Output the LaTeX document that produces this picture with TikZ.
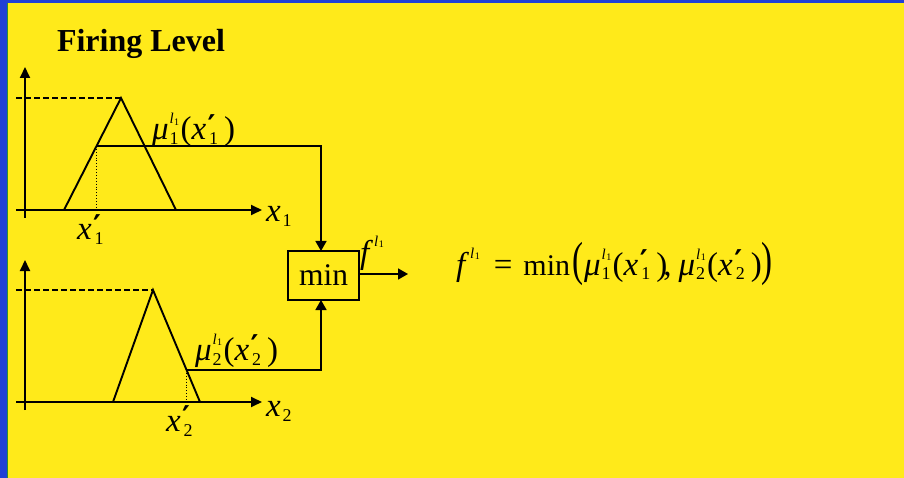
\documentclass[tikz,border=0pt]{standalone}
\usepackage{fontspec}
\setmainfont{Liberation Serif}
\newfontfamily\dvs{DejaVu Sans}
\usepackage{graphicx}
\usetikzlibrary{arrows.meta}
\definecolor{bgyellow}{RGB}{255,234,26}
\definecolor{bgblue}{RGB}{33,64,214}
\definecolor{edgegreen}{RGB}{40,140,60}
\newcommand{\subsz}{\fontsize{18}{18}\selectfont\upshape}
\newcommand{\lsupb}{{\fontsize{15}{15}\selectfont\itshape l\kern0.5pt\raisebox{-1.5pt}{\fontsize{10}{10}\selectfont\upshape 1}}}
\newcommand{\prm}{{\fontsize{30}{30}\selectfont\dvs\bfseries\upshape ′}}
\newcommand{\xpr}[1]{{\itshape x}\kern1.5pt\rlap{\raisebox{3.5pt}{\prm}}\kern1.5pt\raisebox{-5pt}{\subsz #1}}
\newcommand{\mss}[1]{{\itshape μ}\kern1pt\rlap{\raisebox{16pt}{\lsupb}}\raisebox{-5pt}{\subsz #1}}
\newcommand{\muv}[1]{\mss{#1}\kern2pt(\xpr{#1}\kern6pt)}
\newcommand{\fsup}{{\itshape f}\kern5pt\raisebox{17pt}{\lsupb}}
\newcommand{\xax}[1]{{\itshape x}\kern2pt\raisebox{-5pt}{\subsz #1}}
\begin{document}
\begin{tikzpicture}[x=1pt,y=-1pt, line width=1.6pt,
  every node/.style={inner sep=0pt, outer sep=0pt},
  lbl/.style={font=\fontsize{33}{36}\selectfont, anchor=base west},
  axis/.style={-{Triangle[length=11pt,width=10pt]}, line width=1.8pt},
  flow/.style={-{Triangle[length=10pt,width=11pt]}, line width=1.6pt},
  dashline/.style={dash pattern=on 6pt off 3pt, line width=1.4pt},
  dotline/.style={dotted, line width=0.9pt},
  mf/.style={line width=1.9pt, line join=miter},
  boxst/.style={draw, line width=1.6pt, minimum width=71pt, minimum height=49pt, font=\fontsize{31.5}{34}\selectfont}]
\useasboundingbox (0,0) rectangle (904,478);
\fill[bgyellow] (0,0) rectangle (904,478);
\fill[bgblue] (0,0) rectangle (7,478);
\fill[bgblue] (0,0) rectangle (904,3);
\draw[edgegreen, line width=0.8pt] (7.4,3) -- (7.4,478);

\node[font=\fontsize{32}{36}\selectfont\bfseries, anchor=base west] (title) at (57,52) {Firing Level};

% chart 1
\draw[axis] (25,218) -- (25,67);
\draw[axis] (16,210) -- (262,210);
\draw[dashline] (16,98) -- (121,98);
\draw[mf] (64,210) -- (121,98) -- (176,210);
\coordinate (m1) at (96.6,146);
\draw[dotline] (m1) -- (96.6,210);

% chart 2
\draw[axis] (25,410) -- (25,260);
\draw[axis] (16,402) -- (262,402);
\draw[dashline] (16,290) -- (153,290);
\draw[mf] (113,402) -- (153,290) -- (200,402);
\coordinate (m2) at (186.6,370);
\draw[dotline] (m2) -- (186.6,402);

% min box and connectors
\node[boxst] (minbox) at (323.5,275.5) {min};
\draw[flow] (m1) -| ([xshift=-2.5pt]minbox.north);
\draw[flow] (m2) -| ([xshift=-2.5pt]minbox.south);
\coordinate (out) at (408,274);
\draw[flow] (minbox.east |- out) -- (out);

% labels
\node[lbl] (mu1) at (152,140) {\muv{1}};
\node[lbl] (mu2) at (195,360) {\muv{2}};
\node[lbl] (xp1) at (77,240) {\xpr{1}};
\node[lbl] (xp2) at (166,431) {\xpr{2}};
\node[lbl] (xa1) at (266,222) {\xax{1}};
\node[lbl] (xa2) at (266,416) {\xax{2}};
\node[lbl] (flbl) at (360,263) {\fsup};
\node[lbl] (eq) at (456,275) {\fsup\kern14pt=\kern11pt{\fontsize{30}{34}\selectfont min}\kern2pt\scalebox{1}[1.45]{(}\kern1pt\muv{1}\kern-4pt,\kern7pt\muv{2}\kern0pt\scalebox{1}[1.45]{)}};
\end{tikzpicture}
\end{document}
